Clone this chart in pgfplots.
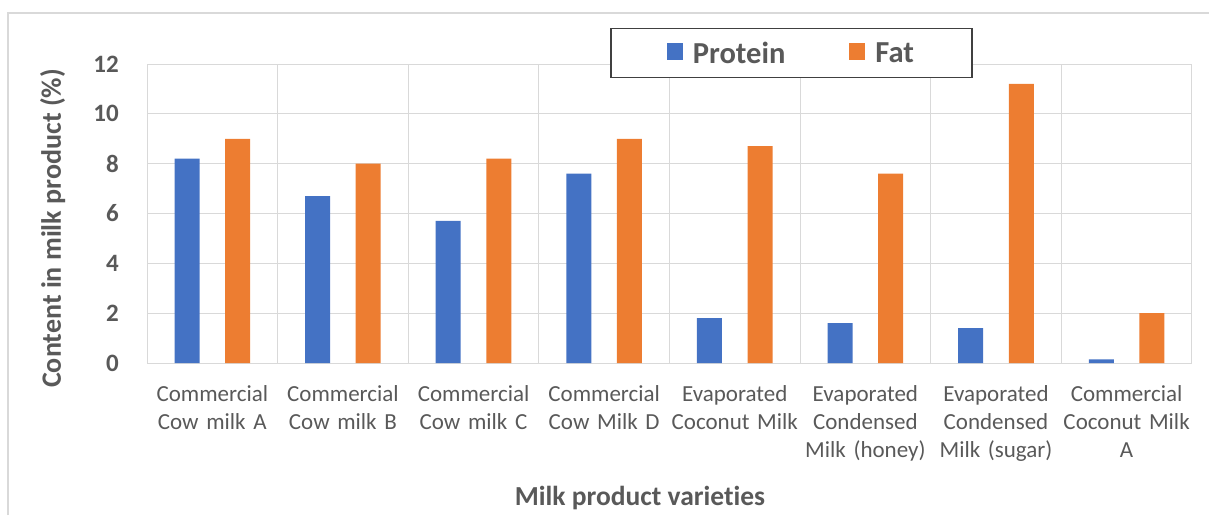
\documentclass[border=0pt]{standalone}
\usepackage{pgfplots}
\pgfplotsset{compat=1.18}
\usepackage{fontspec}
\setmainfont{Carlito}[Ligatures={NoCommon}]
\definecolor{pblue}{HTML}{4472C4}
\definecolor{forange}{HTML}{ED7D31}
\definecolor{txt}{HTML}{595959}
\definecolor{grd}{HTML}{D9D9D9}

\begin{document}
\begin{tikzpicture}[x=1pt,y=1pt]
\useasboundingbox (0,0) rectangle (1209,515);
\draw[grd, line width=1.5pt] (8,0) -- (8,502) -- (1209,502);
\begin{axis}[
  at={(147pt,152pt)}, anchor=south west,
  width=1045pt, height=299pt, scale only axis,
  xmin=-0.5, xmax=7.5, ymin=0, ymax=12,
  ybar, bar width=25pt,
  ytick={0,2,...,12},
  xtick={0,...,7},
  xticklabels={Commercial\\Cow milk A, Commercial\\Cow milk B, Commercial\\Cow milk C, Commercial\\Cow Milk D, Evaporated\\Coconut Milk, Evaporated\\Condensed\\Milk (honey), Evaporated\\Condensed\\Milk (sugar), Commercial\\Coconut Milk\\A},
  minor xtick={-0.5,0.5,...,7.5},
  ymajorgrids, xminorgrids,
  grid style={grd, line width=1pt},
  axis line style={grd, line width=1pt},
  major tick length=0pt, minor tick length=0pt,
  /pgf/number format/assume math mode=true,
  yticklabel style={font=\fontsize{25}{30}\selectfont\bfseries, text=txt, anchor=east, inner sep=0pt, xshift=-28pt},
  xticklabel style={font=\fontsize{23}{28.3}\selectfont, text=txt, align=center, text width=130pt, anchor=north, inner sep=0pt, yshift=-22pt},
  ylabel={Content in milk product (\%)},
  ylabel style={at={(axis description cs:-0.0823,0.45)}, anchor=base, rotate=0, inner sep=0pt, font=\fontsize{28}{33}\selectfont\bfseries, text=txt},
  xlabel={Milk product varieties},
  xlabel style={at={(axis description cs:0.4718,-0.4749)}, anchor=base, inner sep=0pt, font=\fontsize{27.5}{33}\selectfont\bfseries, text=txt},
  legend style={at={(axis description cs:0.6167,1.1204)}, anchor=north, draw=black!75, line width=1.3pt, fill=white,
    font=\fontsize{30.5}{36}\selectfont\bfseries, text=txt, legend columns=2, inner xsep=56pt, inner ysep=11pt,
    /tikz/every even column/.append style={column sep=62pt}},
  legend image code/.code={\fill[#1] (0pt,-7pt) rectangle (16pt,10pt); \path (24pt,0pt);},
]
\addplot[fill=pblue, draw=none, bar shift=-25.3pt] coordinates {(0,8.2) (1,6.7) (2,5.7) (3,7.6) (4,1.8) (5,1.6) (6,1.4) (7,0.15)};
\addplot[fill=forange, draw=none, bar shift=25.3pt] coordinates {(0,9.0) (1,8.0) (2,8.2) (3,9.0) (4,8.7) (5,7.6) (6,11.2) (7,2.0)};
\legend{Protein, Fat}
\end{axis}
\end{tikzpicture}
\end{document}
